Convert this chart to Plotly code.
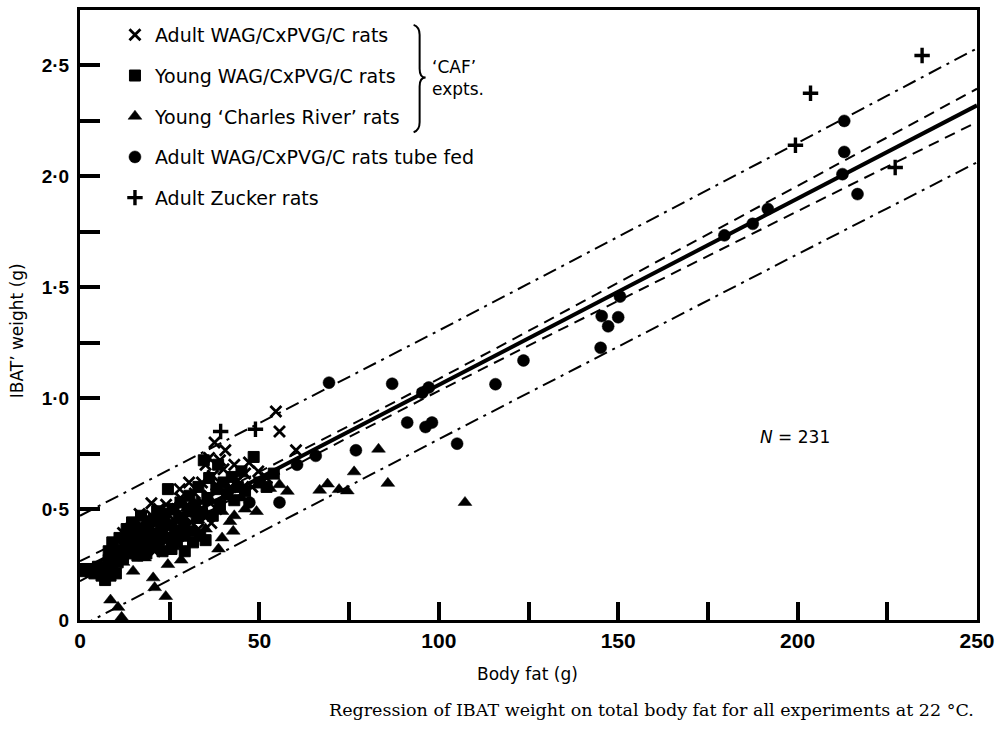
import plotly.graph_objects as go

# ---------------- data ----------------
adult_fat = [54.6, 55.6, 37.5, 40.5, 60.2, 47.1, 49.7, 30.4, 27.8, 19.9, 16.6, 12.0, 20.8, 36.6, 35.2,
             10, 11, 13, 14, 15, 16, 17, 18, 18, 19, 20, 21, 21, 22, 22, 23, 24, 24, 25, 26, 26, 27, 28, 28,
             29, 30, 30, 31, 32, 32, 33, 34, 34, 35, 36, 36, 37, 38, 38, 39, 40, 41, 42, 43, 44, 46, 48, 52]
adult_ibat = [0.94, 0.85, 0.80, 0.765, 0.765, 0.71, 0.67, 0.62, 0.59, 0.526, 0.478, 0.392, 0.31, 0.437, 0.466,
              0.30, 0.33, 0.36, 0.41, 0.35, 0.38, 0.43, 0.36, 0.45, 0.40, 0.47, 0.38, 0.43, 0.50, 0.34, 0.45, 0.40, 0.52, 0.47, 0.37, 0.43, 0.50, 0.41, 0.55,
              0.46, 0.52, 0.38, 0.44, 0.57, 0.49, 0.41, 0.53, 0.62, 0.70, 0.56, 0.73, 0.65, 0.50, 0.61, 0.72, 0.68, 0.55, 0.60, 0.70, 0.63, 0.66, 0.60, 0.64]

young_fat = [1, 2, 3, 4, 5, 6, 7, 7.5, 8, 8, 8.5, 9, 9, 9.5, 10, 10.5, 11, 11, 12, 12.5, 13, 13.5, 14, 14.5, 15,
             15.5, 16, 16.5, 17, 17.5, 18, 18.5, 19, 19.5, 20, 20.5, 21, 21.5, 22, 22.5, 23, 23.5, 24, 24.5, 25,
             25.5, 26, 26.5, 27, 27.5, 28, 28.5, 29, 29.2, 30, 30.5, 31, 31.5, 32, 32.5, 33, 33.5, 34, 34.5, 35,
             35.5, 36, 37, 38, 38.5, 39, 40, 41, 42.3, 43, 44, 45, 46, 48.4, 50, 52, 54]
young_ibat = [0.22, 0.23, 0.22, 0.21, 0.24, 0.20, 0.18, 0.23, 0.27, 0.31, 0.20, 0.35, 0.24, 0.29, 0.21, 0.26, 0.37, 0.31, 0.28, 0.34, 0.41, 0.30, 0.38, 0.44, 0.33,
              0.41, 0.29, 0.36, 0.47, 0.33, 0.40, 0.30, 0.43, 0.36, 0.33, 0.45, 0.39, 0.49, 0.36, 0.42, 0.31, 0.48, 0.37, 0.59, 0.43,
              0.32, 0.50, 0.40, 0.35, 0.46, 0.53, 0.38, 0.43, 0.31, 0.49, 0.56, 0.40, 0.35, 0.52, 0.46, 0.60, 0.38, 0.48, 0.72, 0.36,
              0.55, 0.64, 0.47, 0.59, 0.70, 0.52, 0.62, 0.57, 0.645, 0.54, 0.60, 0.67, 0.58, 0.735, 0.62, 0.60, 0.66]

cr_fat = [8.5, 10.6, 11.6, 14.8, 20.4, 20.8, 23.9, 24.5, 28.2, 38.6, 39.6, 42.7, 41.8, 39.6, 49.2, 52.9, 55.6, 57.8,
          66.8, 69.0, 72.2, 74.5, 76.4, 83.2, 85.8, 107.3, 30, 33, 35, 26, 45, 43, 46, 12, 18]
cr_ibat = [0.09, 0.057, 0.012, 0.22, 0.19, 0.146, 0.106, 0.25, 0.27, 0.32, 0.37, 0.40, 0.444, 0.489, 0.489, 0.593, 0.61, 0.58,
           0.585, 0.613, 0.588, 0.582, 0.668, 0.77, 0.616, 0.53, 0.40, 0.45, 0.41, 0.33, 0.55, 0.47, 0.50, 0.26, 0.28]

tube_fat = [47.2, 55.6, 60.5, 65.7, 69.4, 76.9, 87.0, 91.2, 95.4, 96.3, 97.2, 98.1, 105.1, 115.8, 123.6,
            145.1, 145.4, 147.2, 150.0, 150.5, 179.6, 187.5, 191.7, 212.5, 213.0, 213.0, 216.7]
tube_ibat = [0.53, 0.53, 0.70, 0.74, 1.07, 0.765, 1.065, 0.89, 1.025, 0.87, 1.048, 0.89, 0.795, 1.063, 1.17,
             1.227, 1.37, 1.324, 1.365, 1.458, 1.734, 1.786, 1.853, 2.01, 2.11, 2.25, 1.92]

zucker_fat = [39.2, 48.9, 199.4, 203.6, 227.2, 234.7]
zucker_ibat = [0.85, 0.86, 2.14, 2.375, 2.04, 2.545]

# regression line and bands, read at these body-fat values
band_x = [0, 25, 50, 75, 100, 125, 150, 175, 200, 225, 250]
fit_y = [0.22, 0.43, 0.64, 0.85, 1.06, 1.27, 1.48, 1.69, 1.90, 2.11, 2.32]
inner_upper = [0.265, 0.465, 0.668, 0.875, 1.087, 1.303, 1.52, 1.738, 1.957, 2.176, 2.395]
inner_lower = [0.175, 0.395, 0.612, 0.825, 1.033, 1.237, 1.44, 1.642, 1.843, 2.044, 2.245]
outer_upper = [0.47, 0.678, 0.886, 1.095, 1.305, 1.516, 1.727, 1.939, 2.151, 2.364, 2.577]
outer_lower = [-0.03, 0.182, 0.394, 0.605, 0.815, 1.024, 1.233, 1.441, 1.649, 1.856, 2.063]

x_tickvals = [0, 50, 100, 150, 200, 250]
x_ticktext = ["0", "50", "100", "150", "200", "250"]
y_tickvals = [0, 0.5, 1.0, 1.5, 2.0, 2.5]
y_ticktext = ["0", "0·5", "1·0", "1·5", "2·0", "2·5"]

# ---------------- figure ----------------
W, H = 1002, 729
L, R, T, B = 80, 24, 7, 108.5
PW, PH = W - L - R, H - T - B


def px2paper(px, py):
    return (px - L) / PW, (H - B - py) / PH


fig = go.Figure()

sans = "DejaVu Sans, Liberation Sans, sans-serif"
bold_sans = "Liberation Sans, Arial, sans-serif"

fig.add_trace(go.Scatter(x=adult_fat, y=adult_ibat, mode="markers", name="Adult WAG/CxPVG/C rats",
                         legendgroup="a",
                         marker=dict(symbol="x-thin", size=11, color="black", line=dict(color="black", width=2.8)),
                         cliponaxis=False))
fig.add_trace(go.Scatter(x=young_fat, y=young_ibat, mode="markers", name="Young WAG/CxPVG/C rats",
                         legendgroup="b",
                         marker=dict(symbol="square", size=11, color="black", line=dict(color="black", width=1)),
                         cliponaxis=False))
fig.add_trace(go.Scatter(x=cr_fat, y=cr_ibat, mode="markers", name="Young \u2018Charles River\u2019 rats",
                         legendgroup="c",
                         marker=dict(symbol="triangle-up", size=12, color="black", line=dict(color="black", width=0.5)),
                         cliponaxis=False))
fig.add_trace(go.Scatter(x=tube_fat, y=tube_ibat, mode="markers", name="Adult WAG/CxPVG/C rats tube fed",
                         legendgroup="d",
                         marker=dict(symbol="circle", size=12, color="black", line=dict(color="black", width=0.5)),
                         cliponaxis=False))
fig.add_trace(go.Scatter(x=zucker_fat, y=zucker_ibat, mode="markers", name="Adult Zucker rats",
                         legendgroup="e",
                         marker=dict(symbol="cross-thin", size=11, color="black", line=dict(color="black", width=3.4)),
                         cliponaxis=False))

# bands and regression line
for yy, dash in [(outer_upper, "14px,6px,3px,6px"), (outer_lower, "14px,6px,3px,6px"),
                 (inner_upper, "11px,7px"), (inner_lower, "11px,7px")]:
    fig.add_trace(go.Scatter(x=band_x, y=yy, mode="lines", showlegend=False, hoverinfo="skip",
                             line=dict(color="black", width=2, dash=dash)))
fig.add_trace(go.Scatter(x=band_x, y=fit_y, mode="lines", showlegend=False, hoverinfo="skip",
                         line=dict(color="black", width=4)))

# brace for 'CAF' experiments
pts = [(414, 22), (420, 24), (420, 32), (420, 66), (420, 75), (426, 75), (420, 75), (420, 84),
       (420, 120), (420, 128), (414, 130)]
pp = [px2paper(a, b) for a, b in pts]
path = (f"M{pp[0][0]},{pp[0][1]} Q{pp[1][0]},{pp[1][1]} {pp[2][0]},{pp[2][1]} "
        f"L{pp[3][0]},{pp[3][1]} Q{pp[4][0]},{pp[4][1]} {pp[5][0]},{pp[5][1]} "
        f"Q{pp[6][0]},{pp[6][1]} {pp[7][0]},{pp[7][1]} L{pp[8][0]},{pp[8][1]} "
        f"Q{pp[9][0]},{pp[9][1]} {pp[10][0]},{pp[10][1]}")
fig.add_shape(type="path", path=path, xref="paper", yref="paper", line=dict(color="black", width=2))

cx, cy = px2paper(430, 75)
fig.add_annotation(x=cx, y=cy, xref="paper", yref="paper", xanchor="left", yanchor="middle",
                   text="\u2018CAF\u2019<br>expts.", showarrow=False, align="left",
                   font=dict(family=sans, size=17, color="black"))

fig.add_annotation(x=199.3, y=0.823, xref="x", yref="y", xanchor="center", yanchor="middle",
                   text="<i>N</i> = 231", showarrow=False,
                   font=dict(family=sans, size=17, color="black"))

# axis titles
tx, ty = px2paper(528, 675)
fig.add_annotation(x=tx, y=ty, xref="paper", yref="paper", xanchor="center", yanchor="middle",
                   text="Body fat (g)", showarrow=False,
                   font=dict(family=sans, size=17, color="black"))
tx, ty = px2paper(17, 330)
fig.add_annotation(x=tx, y=ty, xref="paper", yref="paper", xanchor="center", yanchor="middle",
                   text="IBAT\u2019 weight (g)", showarrow=False,
                   textangle=-90, font=dict(family=sans, size=17, color="black"))
# caption
tx, ty = px2paper(652, 711)
fig.add_annotation(x=tx, y=ty, xref="paper", yref="paper", xanchor="center", yanchor="middle",
                   text="Regression of IBAT weight on total body fat for all experiments at 22 \u00b0C.",
                   showarrow=False, font=dict(family="DejaVu Serif, Liberation Serif, serif", size=17.5, color="black"))

lx, ly = px2paper(115, 13)
fig.update_layout(
    width=W, height=H,
    margin=dict(l=L, r=R, t=T, b=B, pad=0),
    paper_bgcolor="white", plot_bgcolor="white",
    font=dict(family=sans, color="black"),
    legend=dict(x=lx, y=ly, xanchor="left", yanchor="top", bgcolor="rgba(0,0,0,0)",
                font=dict(family=sans, size=19, color="black"), tracegroupgap=13,
                itemclick=False, itemdoubleclick=False),
    xaxis=dict(range=[0, 250], tickvals=x_tickvals, ticktext=x_ticktext, ticks="inside", ticklen=18,
               tickwidth=3.5, tickcolor="black", showline=True, linewidth=3, linecolor="black", mirror=True,
               showgrid=False, zeroline=False,
               tickfont=dict(family="Liberation Sans Narrow, Liberation Sans", size=21, color="black", weight="bold"),
               minor=dict(tickvals=[25, 75, 125, 175, 225], ticks="inside", ticklen=18, tickwidth=3.5, tickcolor="black"),
               fixedrange=True),
    yaxis=dict(range=[0, 2.75], tickvals=y_tickvals, ticktext=y_ticktext, ticks="inside", ticklen=20,
               tickwidth=3.5, tickcolor="black", showline=True, linewidth=3, linecolor="black", mirror=True,
               showgrid=False, zeroline=False, ticklabelstandoff=4,
               tickfont=dict(family=bold_sans, size=19, color="black", weight="bold"),
               minor=dict(tickvals=[0.25, 0.75, 1.25, 1.75, 2.25], ticks="inside", ticklen=20, tickwidth=3.5, tickcolor="black"),
               fixedrange=True),
)

fig.write_html("out.html")
